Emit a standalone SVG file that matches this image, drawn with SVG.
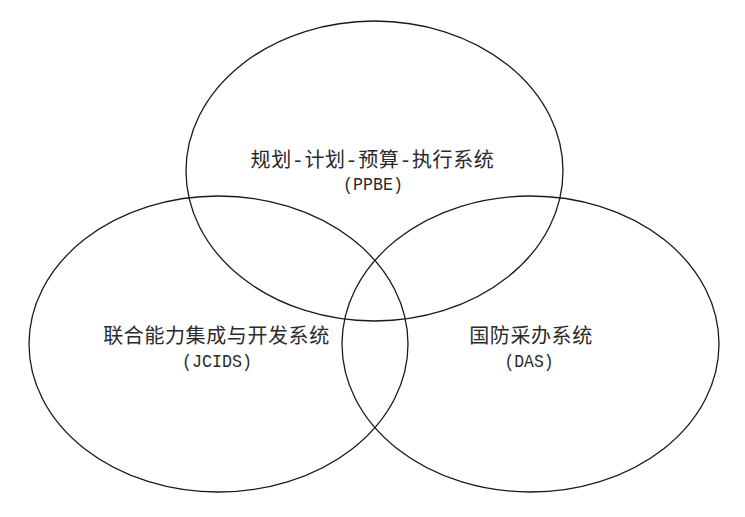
<svg xmlns="http://www.w3.org/2000/svg" width="745" height="517" viewBox="0 0 745 517">
<style>
.ring{fill:none;stroke:#1a1a1a;stroke-width:1.3}
.cjk{font-family:"Noto Sans CJK SC","Noto Sans",sans-serif;font-size:20px;fill:#2a2a2a;text-anchor:middle;letter-spacing:0.6px}
.lat{font-family:"Liberation Mono","Noto Sans CJK SC",monospace;font-size:18px;fill:#2a2a2a;text-anchor:middle}
</style>
<rect width="745" height="517" fill="#fff"/>
<g id="ppbe">
<ellipse class="ring" cx="374.5" cy="171" rx="188.5" ry="150"/>
<text class="cjk" x="372.5" y="167">规划<tspan font-family="Liberation Mono">-</tspan>计划<tspan font-family="Liberation Mono">-</tspan>预算<tspan font-family="Liberation Mono">-</tspan>执行系统</text>
<text class="lat" x="373" y="190" textLength="60" lengthAdjust="spacingAndGlyphs">(PPBE)</text>
</g>
<g id="jcids">
<ellipse class="ring" cx="218.5" cy="344" rx="189.5" ry="148"/>
<text class="cjk" x="216.5" y="343">联合能力集成与开发系统</text>
<text class="lat" x="217" y="367" textLength="70" lengthAdjust="spacingAndGlyphs">(JCIDS)</text>
</g>
<g id="das">
<ellipse class="ring" cx="530.5" cy="344" rx="188.5" ry="148"/>
<text class="cjk" x="531" y="343">国防采办系统</text>
<text class="lat" x="529" y="367" textLength="49" lengthAdjust="spacingAndGlyphs">(DAS)</text>
</g>
<g id="connectors"></g>
</svg>
